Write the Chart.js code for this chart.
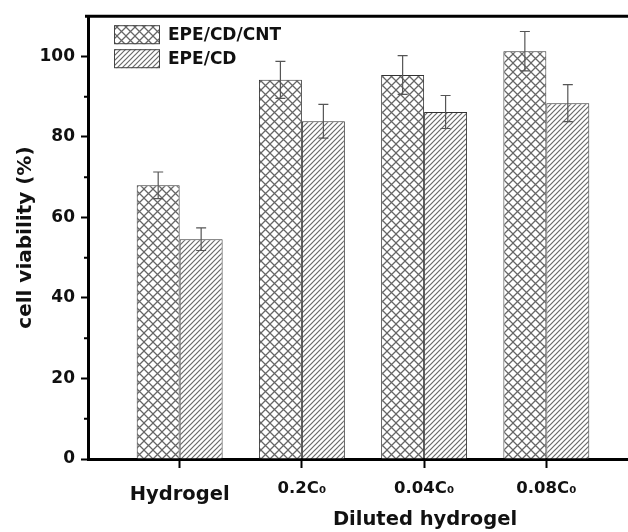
<!DOCTYPE html>
<html>
<head>
<meta charset="utf-8">
<script src="https://cdn.jsdelivr.net/npm/chart.js@4.4.1/dist/chart.umd.min.js"></script>
<style>
  html, body { margin: 0; padding: 0; background: #fff; overflow: hidden; width: 628px; height: 532px; }
  #wrap { width: 650px; height: 532px; }
</style>
</head>
<body>
<div id="wrap"><canvas id="grafica" width="650" height="532"></canvas></div>
<script>
// Datos
const categorias = ['Hydrogel', '0.2C₀', '0.04C₀', '0.08C₀'];
const seriesNombres = ['EPE/CD/CNT', 'EPE/CD'];
const viabCNT = [68.0, 94.2, 95.4, 101.3];
const errCNT = [3.3, 4.6, 4.8, 4.9];
const viabCD = [54.6, 83.9, 86.2, 88.4];
const errCD = [2.8, 4.2, 4.1, 4.6];
const yTicks = [0, 20, 40, 60, 80, 100];
const yMenores = [10, 30, 50, 70, 90];
const tituloX = 'Diluted hydrogel';
const tituloY = 'cell viability (%)';

const FUENTE = "'DejaVu Sans', 'Liberation Sans', sans-serif";

// patrones de relleno (cuadricula diagonal y rayado)
function patronCruz() {
  const c = document.createElement('canvas');
  c.width = 9; c.height = 9;
  const g = c.getContext('2d');
  g.fillStyle = '#fff';
  g.fillRect(0, 0, 9, 9);
  g.strokeStyle = '#666';
  g.lineWidth = 1.25;
  g.beginPath();
  g.moveTo(-1, -1); g.lineTo(10, 10);
  g.moveTo(-1, 10); g.lineTo(10, -1);
  g.stroke();
  return g.createPattern(c, 'repeat');
}

function patronRayas() {
  const c = document.createElement('canvas');
  c.width = 5; c.height = 5;
  const g = c.getContext('2d');
  g.fillStyle = '#fff';
  g.fillRect(0, 0, 5, 5);
  g.strokeStyle = '#6a6a6a';
  g.lineWidth = 1.2;
  g.beginPath();
  g.moveTo(-1, 6); g.lineTo(6, -1);
  g.moveTo(-1, 1); g.lineTo(1, -1);
  g.moveTo(4, 6); g.lineTo(6, 4);
  g.stroke();
  return g.createPattern(c, 'repeat');
}

const rellenos = [patronCruz(), patronRayas()];

const barrasError = {
  id: 'barrasError',
  afterDatasetsDraw(chart) {
    const ctx = chart.ctx;
    const y = chart.scales.y;
    const valores = [viabCNT, viabCD];
    const errores = [errCNT, errCD];
    ctx.save();
    ctx.strokeStyle = '#555';
    ctx.lineWidth = 1.2;
    chart.data.datasets.forEach((ds, d) => {
      chart.getDatasetMeta(d).data.forEach((bar, i) => {
        const arriba = y.getPixelForValue(valores[d][i] + errores[d][i]);
        const abajo = y.getPixelForValue(valores[d][i] - errores[d][i]);
        ctx.beginPath();
        ctx.moveTo(bar.x, arriba); ctx.lineTo(bar.x, abajo);
        ctx.moveTo(bar.x - 5, arriba); ctx.lineTo(bar.x + 5, arriba);
        ctx.moveTo(bar.x - 5, abajo); ctx.lineTo(bar.x + 5, abajo);
        ctx.stroke();
      });
    });
    ctx.restore();
  }
};

const marco = {
  id: 'marco',
  afterDraw(chart) {
    const ctx = chart.ctx;
    const a = chart.chartArea;
    const y = chart.scales.y;
    ctx.save();
    // linea superior
    ctx.strokeStyle = '#000';
    ctx.lineWidth = 3;
    ctx.beginPath();
    ctx.moveTo(a.left - 3, a.top);
    ctx.lineTo(a.right, a.top);
    ctx.stroke();
    // ticks menores
    ctx.lineWidth = 2;
    ctx.beginPath();
    yMenores.forEach(v => {
      const py = y.getPixelForValue(v);
      ctx.moveTo(a.left - 4, py);
      ctx.lineTo(a.left, py);
    });
    ctx.stroke();
    // leyenda
    ctx.font = `bold 17px ${FUENTE}`;
    ctx.textBaseline = 'middle';
    ctx.textAlign = 'left';
    chart.data.datasets.forEach((ds, i) => {
      const bx = a.left + 26, by = a.top + 9 + i * 24;
      ctx.fillStyle = rellenos[i];
      ctx.fillRect(bx, by, 46, 19);
      ctx.strokeStyle = '#444';
      ctx.lineWidth = 1;
      ctx.strokeRect(bx + 0.5, by + 0.5, 45, 18);
      ctx.fillStyle = '#111';
      ctx.fillText(ds.label, bx + 54, by + 10);
    });
    // titulo eje x
    ctx.font = `bold 19.5px ${FUENTE}`;
    ctx.textAlign = 'center';
    ctx.fillText(tituloX, 425, 520);
    ctx.restore();
  }
};

new Chart(document.getElementById('grafica'), {
  type: 'bar',
  data: {
    datasets: seriesNombres.map((nombre, d) => ({
      label: nombre,
      data: categorias.map((c, i) => ({ x: i + 1, y: [viabCNT, viabCD][d][i] })),
      backgroundColor: rellenos[d],
      borderColor: '#333',
      borderWidth: 1,
      categoryPercentage: 0.703,
      barPercentage: 1
    }))
  },
  options: {
    responsive: false,
    animation: false,
    devicePixelRatio: 1,
    layout: { padding: { top: 15, right: 12, left: 0, bottom: 0 } },
    plugins: {
      legend: { display: false },
      tooltip: { enabled: false }
    },
    scales: {
      x: {
        type: 'linear',
        min: 0.25,
        max: 4.75,
        offset: false,
        afterBuildTicks: s => { s.ticks = categorias.map((c, i) => ({ value: i + 1 })); },
        afterFit: s => { s.height = 73; },
        grid: { offset: false, drawOnChartArea: false, tickLength: 9, tickWidth: 2, tickColor: '#000' },
        border: { width: 3, color: '#000' },
        ticks: {
          autoSkip: false,
          maxRotation: 0,
          padding: 11,
          color: '#111',
          font: ctx => ctx.index === 0
            ? { family: FUENTE, weight: 'bold', size: 19.5, lineHeight: 1.6 }
            : { family: FUENTE, weight: 'bold', size: 16.5, lineHeight: 1.2 },
          callback: v => categorias[Math.round(v) - 1]
        }
      },
      y: {
        min: 0,
        max: 110,
        afterBuildTicks: s => { s.ticks = yTicks.map(v => ({ value: v })); },
        afterFit: s => { s.width = 88; },
        grid: { drawOnChartArea: false, tickLength: 7, tickWidth: 2, tickColor: '#000' },
        border: { width: 3, color: '#000' },
        ticks: {
          padding: 6,
          color: '#111',
          font: { family: FUENTE, weight: 'bold', size: 17 }
        },
        title: {
          display: true,
          text: tituloY,
          color: '#111',
          font: { family: FUENTE, weight: 'bold', size: 20 },
          padding: { top: 14, bottom: 0 }
        }
      }
    }
  },
  plugins: [barrasError, marco]
});
</script>
</body>
</html>
